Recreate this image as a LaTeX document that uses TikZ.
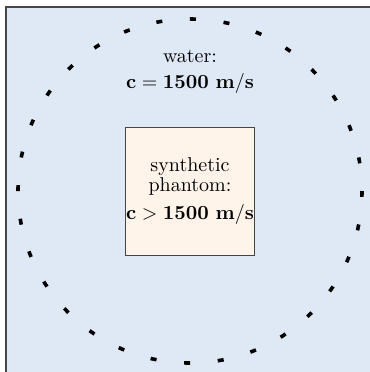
\documentclass[tikz,border=0pt]{standalone}
\usepackage{amsmath}
\definecolor{waterblue}{RGB}{223,233,245}
\definecolor{phantomorange}{RGB}{254,244,234}
\definecolor{framegray}{RGB}{70,70,70}
\usetikzlibrary{positioning}

\begin{document}
\begin{tikzpicture}[x=0.5pt,y=-0.5pt,
  phantom/.style={draw=framegray,fill=phantomorange,line width=0.6pt,minimum size=64.3pt,inner sep=0pt,align=center,font=\normalsize},
  label/.style={align=center,font=\normalsize},
  ring/.style={line width=1.8pt,dash pattern=on 3pt off 13.89pt,dash phase=3pt}]
  \useasboundingbox (0,0) rectangle (370,372);
  \clip (0,0) rectangle (370,372);
  % water tank (cut off at the right and bottom)
  \fill[waterblue] (6,7) rectangle (380,380);
  \draw[framegray,line width=0.8pt] (6,380) -- (6,7) -- (380,7);
  % transducer ring
  \draw[ring] (190,191) circle[radius=86pt];
  % labels
  \node[label] (water) at (190,72) {water:\\[1pt] $\mathbf{c = 1500\ m/s}$};
  \node[phantom] (phantom) at (190,191.5) {synthetic\\[-2pt] phantom:\\[2pt] $\mathbf{c > 1500\ m/s}$};
\end{tikzpicture}
\end{document}
